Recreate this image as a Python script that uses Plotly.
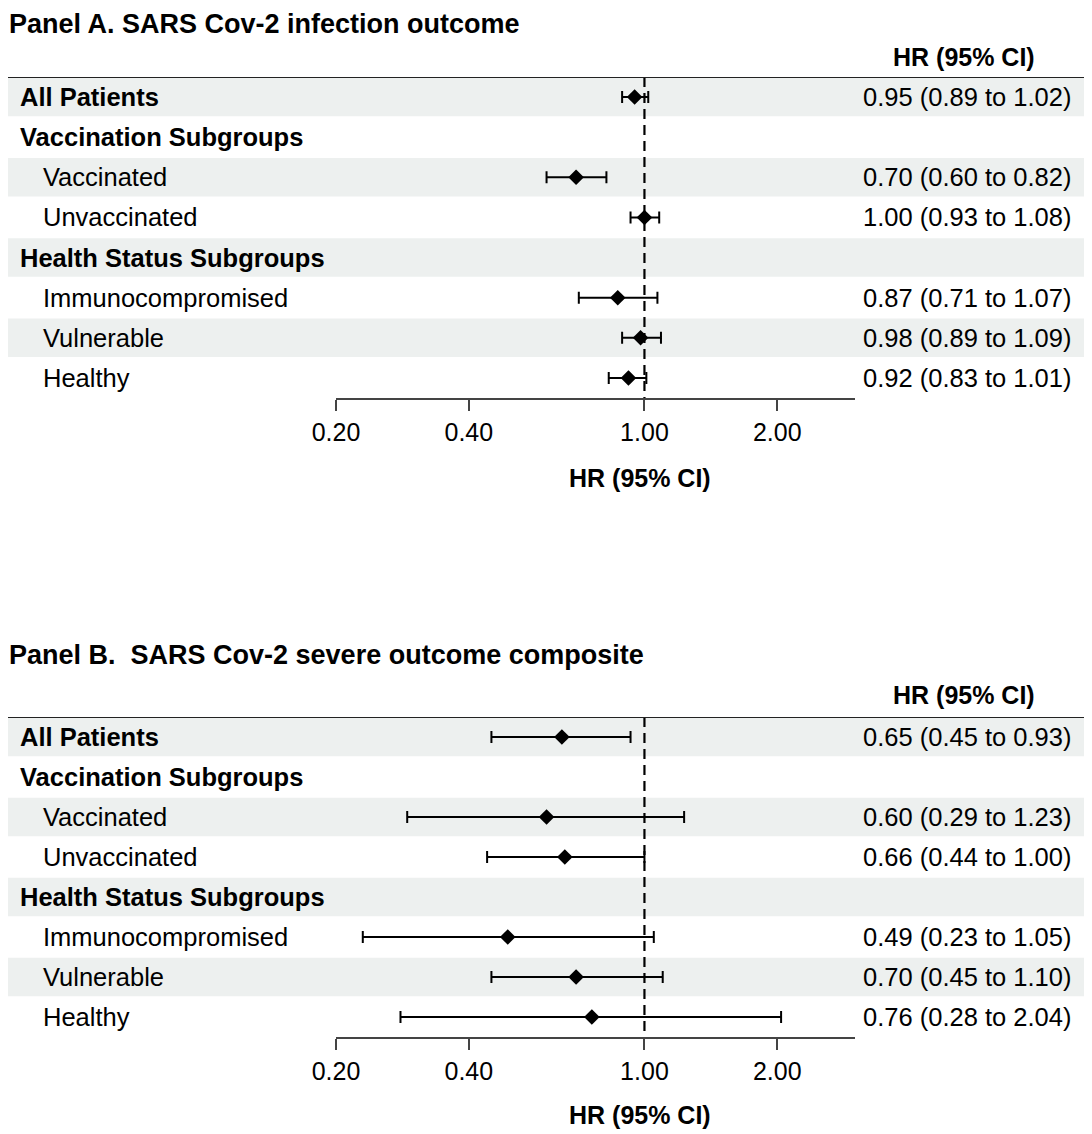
import math
import plotly.graph_objects as go

# Row labels (same for both panels)
rows = ["All Patients", "Vaccination Subgroups", "Vaccinated", "Unvaccinated",
        "Health Status Subgroups", "Immunocompromised", "Vulnerable", "Healthy"]
bold_rows = [0, 1, 4]
shaded_rows = [0, 2, 4, 6]

# Panel A: SARS Cov-2 infection outcome
hr_a = [0.95, None, 0.70, 1.00, None, 0.87, 0.98, 0.92]
lo_a = [0.89, None, 0.60, 0.93, None, 0.71, 0.89, 0.83]
hi_a = [1.02, None, 0.82, 1.08, None, 1.07, 1.09, 1.01]

# Panel B: SARS Cov-2 severe outcome composite
hr_b = [0.65, None, 0.60, 0.66, None, 0.49, 0.70, 0.76]
lo_b = [0.45, None, 0.29, 0.44, None, 0.23, 0.45, 0.28]
hi_b = [0.93, None, 1.23, 1.00, None, 1.05, 1.10, 2.04]

titles = ["Panel A. SARS Cov-2 infection outcome",
          "Panel B.&nbsp; SARS Cov-2 severe outcome composite"]
tick_vals = [0.2, 0.4, 1.0, 2.0]
tick_text = ["0.20", "0.40", "1.00", "2.00"]
ref_line = 1.0
x_range = [0.2, 3.0]

W, H = 1092, 1134
OFF = 8  # page body margin in the browser
FONT = "Liberation Sans, Arial, sans-serif"
BAND = "#EDF0EF"
AXC = "#444444"

fig = go.Figure()


def py(px):
    # screen pixel from top -> paper y
    return min(1 - (px - OFF) / H, 1)


def px_x(px):
    return max(px - OFF, 0) / W


panels = [
    dict(hr=hr_a, lo=lo_a, hi=hi_a, title=titles[0], rule=77, axis=398,
         title_y=8, title_anchor="top", head_y=57, axtitle_y=478),
    dict(hr=hr_b, lo=lo_b, hi=hi_b, title=titles[1], rule=717, axis=1037,
         title_y=655, title_anchor="middle", head_y=695, axtitle_y=1115),
]

annotations = []
shapes = []

for k, p in enumerate(panels):
    xa = "x" if k == 0 else "x2"
    ya = "y" if k == 0 else "y2"

    # shaded bands
    for i in shaded_rows:
        shapes.append(dict(type="rect", xref="paper", yref=ya,
                           x0=px_x(3), x1=px_x(1088), y0=i - 0.48, y1=i + 0.48,
                           fillcolor=BAND, line_width=0, layer="below"))
    # top rule
    shapes.append(dict(type="line", xref="paper", yref=ya, x0=0, x1=1,
                       y0=-0.5, y1=-0.5, line=dict(color="#222222", width=2)))

    # reference line at HR = 1
    fig.add_trace(go.Scatter(x=[ref_line, ref_line], y=[-0.5, len(rows) - 0.5],
                             mode="lines", xaxis=xa, yaxis=ya,
                             line=dict(color="black", width=2.2, dash="10px,6px"),
                             showlegend=False, hoverinfo="skip"))

    idx = [i for i in range(len(rows)) if p["hr"][i] is not None]
    xs = [p["hr"][i] for i in idx]
    plus = [p["hi"][i] - p["hr"][i] for i in idx]
    minus = [p["hr"][i] - p["lo"][i] for i in idx]
    fig.add_trace(go.Scatter(
        x=xs, y=idx, mode="markers", xaxis=xa, yaxis=ya,
        marker=dict(symbol="diamond", size=12, color="black"),
        error_x=dict(type="data", symmetric=False, array=plus, arrayminus=minus,
                     color="black", thickness=2, width=6),
        showlegend=False))

    # row labels and values
    for i, lab in enumerate(rows):
        txt = f"<b>{lab}</b>" if i in bold_rows else lab
        annotations.append(dict(xref="paper", yref=ya, x=px_x(18 if i in bold_rows else 41),
                                y=i, text=txt, showarrow=False, xanchor="left",
                                yanchor="middle", font=dict(size=25.5, color="black")))
        if p["hr"][i] is not None:
            val = f"{p['hr'][i]:.2f} ({p['lo'][i]:.2f} to {p['hi'][i]:.2f})"
            annotations.append(dict(xref="paper", yref=ya, x=px_x(1073), y=i,
                                    text=val, showarrow=False, xanchor="right",
                                    yanchor="middle", font=dict(size=25.5, color="black")))

    # panel title, header, axis title
    annotations.append(dict(xref="paper", yref="paper", x=px_x(4), y=py(p["title_y"]),
                            text=f"<b>{p['title']}</b>", showarrow=False, borderpad=0,
                            xanchor="left", yanchor=p["title_anchor"],
                            font=dict(size=27, color="black")))
    annotations.append(dict(xref="paper", yref="paper", x=px_x(964), y=py(p["head_y"]),
                            text="<b>HR (95% CI)</b>", showarrow=False,
                            xanchor="center", yanchor="middle",
                            font=dict(size=25, color="black")))
    annotations.append(dict(xref="paper", yref="paper", x=px_x(640), y=py(p["axtitle_y"]),
                            text="<b>HR (95% CI)</b>", showarrow=False,
                            xanchor="center", yanchor="middle",
                            font=dict(size=25, color="black")))

xaxis_style = dict(type="log", range=[math.log10(x_range[0]), math.log10(x_range[1])],
                   domain=[px_x(336), px_x(855)], tickvals=tick_vals, ticktext=tick_text,
                   showline=True, linecolor=AXC, linewidth=1.5, ticks="outside",
                   ticklen=11, tickwidth=1.5, tickcolor=AXC, showgrid=False,
                   zeroline=False, automargin=False, tickfont=dict(size=25, color="black"))
yaxis_style = dict(range=[len(rows) - 0.5, -0.5], showticklabels=False, showgrid=False,
                   zeroline=False, showline=False, ticks="", automargin=False)

fig.update_layout(
    width=W, height=H,
    margin=dict(l=0, r=0, t=0, b=0, pad=0, autoexpand=False),
    plot_bgcolor="white", paper_bgcolor="white",
    font=dict(family=FONT, color="black"),
    xaxis=dict(**xaxis_style, anchor="y"),
    xaxis2=dict(**xaxis_style, anchor="y2"),
    yaxis=dict(**yaxis_style, domain=[py(panels[0]["axis"]), py(panels[0]["rule"])]),
    yaxis2=dict(**yaxis_style, domain=[py(panels[1]["axis"]), py(panels[1]["rule"])]),
    shapes=shapes,
    annotations=annotations,
)

fig.write_html("out.html")
